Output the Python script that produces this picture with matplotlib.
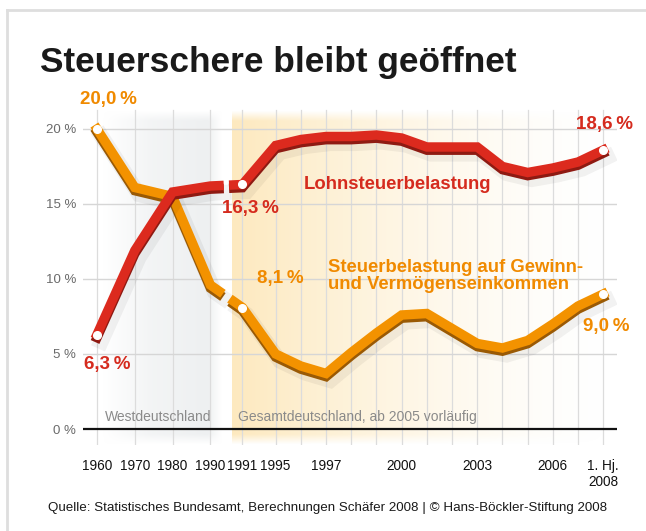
import numpy as np
import matplotlib
matplotlib.use("Agg")
import matplotlib.pyplot as plt
import matplotlib.patheffects as pe
from matplotlib.lines import Line2D

plt.rcParams['font.family'] = ['Liberation Sans', 'DejaVu Sans']

# --- data -------------------------------------------------------------
west_years = [1960, 1970, 1980, 1990]
east_years = [1991, 1995, 1996, 1997, 1998, 1999, 2000, 2001, 2002,
              2003, 2004, 2005, 2006, 2007, 2008]

lohn_west = [6.3, 11.9, 15.8, 16.2]
lohn_east = [16.3, 18.9, 19.3, 19.5, 19.5, 19.6, 19.4, 18.8, 18.8,
             18.8, 17.5, 17.1, 17.4, 17.8, 18.6]

gewinn_west = [20.0, 16.1, 15.5, 9.6]
gewinn_east = [8.1, 5.0, 4.2, 3.7, 5.1, 6.4, 7.6, 7.7, 6.7,
               5.7, 5.4, 5.9, 7.0, 8.2, 9.0]

tick_years = [1960, 1970, 1980, 1990, 1991, 1995, 1997, 2000, 2003, 2006, 2008]
tick_labels = ["1960", "1970", "1980", "1990", "1991", "1995", "1997",
               "2000", "2003", "2006", "1. Hj.\n2008"]
y_ticks = [0, 5, 10, 15, 20]
y_labels = ["0 %", "5 %", "10 %", "15 %", "20 %"]


# broken time axis: decades compressed in the west part
def xpos(year):
    if year <= 1990:
        return (year - 1960) / 10 * 1.5
    if year < 1995:
        return 4.5 + 1.27
    return 4.5 + 1.27 + 1.32 + (year - 1995)


RED = "#dc2a1e"
RED_DARK = "#8e1a12"
ORANGE = "#f39200"
ORANGE_DARK = "#9a5a05"
RED_TXT = "#d52b1e"
ORANGE_TXT = "#f08a00"
GRAY_TXT = "#8a8a8a"

W, H = 646, 531
fig = plt.figure(figsize=(W / 100, H / 100), dpi=100)
fig.patch.set_facecolor("white")

# axes placed in pixel terms
left, right, top, bottom = 83, 617, 108, 445
ax = fig.add_axes([left / W, 1 - bottom / H, (right - left) / W, (bottom - top) / H])
px_per_unit = 25.2
x0 = 97
ax.set_xlim((left - x0) / px_per_unit, (right - x0) / px_per_unit)
ax.set_ylim((429 - bottom) / 15, (429 - top) / 15)
for s in ax.spines.values():
    s.set_visible(False)

ymin, ymax = ax.get_ylim()
band_lo, band_hi = ymin, (429 - 110) / 15

# vertical soft edges of the background bands
nv = 200
vy = np.linspace(0, 1, nv)
v_alpha = np.clip(np.minimum(vy / 0.03, (1 - vy) / 0.03), 0, 1)

# gray band (Westdeutschland)
gx0, gx1 = (103 - x0) / px_per_unit, (222 - x0) / px_per_unit
nx = 300
gx = np.linspace(gx0, gx1, nx)
g_alpha = np.interp(gx, [gx0, (150 - x0) / px_per_unit, (208 - x0) / px_per_unit, gx1],
                    [0, 0.7, 1, 0])
img = np.zeros((nv, nx, 4))
img[..., :3] = np.array([0.937, 0.942, 0.948])
img[..., 3] = v_alpha[:, None] * g_alpha[None, :]
ax.imshow(img, extent=[gx0, gx1, band_lo, band_hi], origin="lower",
          aspect="auto", zorder=0, interpolation="bilinear")

# orange band (Gesamtdeutschland)
ox0, ox1 = (232 - x0) / px_per_unit, (612 - x0) / px_per_unit
ox = np.linspace(0, 1, nx)
o_alpha = np.clip(1 - ox, 0, 1) ** 1.5
img2 = np.zeros((nv, nx, 4))
img2[..., :3] = np.array([0.995, 0.915, 0.75])
img2[..., 3] = v_alpha[:, None] * o_alpha[None, :]
ax.imshow(img2, extent=[ox0, ox1, band_lo, band_hi], origin="lower",
          aspect="auto", zorder=0, interpolation="bilinear")

# grid
all_years = west_years + east_years
for yr in all_years:
    ax.plot([xpos(yr)] * 2, [band_lo, band_hi], color="#dcdcdc", lw=0.9, zorder=1)
for yv in y_ticks[1:]:
    ax.axhline(yv, color="#d6d6d6", lw=1.0, zorder=1)
ax.axhline(0, color="#111111", lw=1.6, zorder=2)

# period labels
ax.text((105 - x0) / px_per_unit, 0.35, "Westdeutschland", color=GRAY_TXT,
        fontsize=10, ha="left", va="bottom", zorder=3)
ax.text((238 - x0) / px_per_unit, 0.35, "Gesamtdeutschland, ab 2005 vorläufig",
        color=GRAY_TXT, fontsize=10, ha="left", va="bottom", zorder=3)


def draw_series(west, east, color, dark, z):
    wx = [xpos(y) for y in west_years]
    ex = [xpos(y) for y in east_years]
    # gap between the two periods
    t1, t2 = 0.27, 0.73
    gx_a = wx[-1] + t1 * (ex[0] - wx[-1])
    gy_a = west[-1] + t1 * (east[0] - west[-1])
    gx_b = wx[-1] + t2 * (ex[0] - wx[-1])
    gy_b = west[-1] + t2 * (east[0] - west[-1])
    effects = [
        pe.SimpleLineShadow(offset=(3, -5), shadow_color="black", alpha=0.05, linewidth=11),
        pe.Stroke(linewidth=6.8, foreground=dark, offset=(0, -2.3)),
        pe.Normal(),
    ]
    for xs, ys in [(wx + [gx_a], west + [gy_a]), ([gx_b] + ex, [gy_b] + east)]:
        ax.plot(xs, ys, color=color, lw=6.8, solid_capstyle="projecting",
                solid_joinstyle="miter", path_effects=effects, zorder=z)
    ax.plot([wx[0], ex[0], ex[-1]], [west[0], east[0], east[-1]], ls="none",
            marker="o", ms=5.5, mfc="white", mec="white", zorder=z + 0.5)


draw_series(gewinn_west, gewinn_east, ORANGE, ORANGE_DARK, 4)
draw_series(lohn_west, lohn_east, RED, RED_DARK, 6)

# value labels
lab = dict(fontsize=13.5, fontweight="bold", ha="center", va="center", zorder=8)
ax.text((108 - x0) / px_per_unit, (429 - 100) / 15, "20,0\u2009%", color=ORANGE_TXT, **lab)
ax.text((107 - x0) / px_per_unit, (429 - 364) / 15, "6,3\u2009%", color=RED_TXT, **lab)
ax.text((250 - x0) / px_per_unit, (429 - 208) / 15, "16,3\u2009%", color=RED_TXT, **lab)
ax.text((280 - x0) / px_per_unit, (429 - 279) / 15, "8,1\u2009%", color=ORANGE_TXT, **lab)
ax.text((605 - x0) / px_per_unit, (429 - 125) / 15, "18,6\u2009%", color=RED_TXT, **lab)
ax.text((606 - x0) / px_per_unit, (429 - 327) / 15, "9,0\u2009%", color=ORANGE_TXT, **lab)

ax.text((304 - x0) / px_per_unit, (429 - 185) / 15, "Lohnsteuerbelastung",
        color=RED_TXT, fontsize=13.3, fontweight="bold", ha="left", va="center", zorder=8)
ax.text((328 - x0) / px_per_unit, (429 - 276) / 15,
        "Steuerbelastung auf Gewinn-\nund Vermögenseinkommen",
        color=ORANGE_TXT, fontsize=13.3, fontweight="bold", ha="left", va="center",
        linespacing=1.05, zorder=8)

# ticks
ax.set_yticks(y_ticks)
ax.set_yticklabels(y_labels, color="#6a6a6a", fontsize=9.5)
ax.set_xticks([xpos(y) for y in tick_years])
ax.set_xticklabels(tick_labels, fontsize=9.8, color="#111111", va="top")
ax.tick_params(axis="both", length=0)
ax.tick_params(axis="y", pad=5)
ax.tick_params(axis="x", pad=10)

# title and source
fig.text(40 / W, 1 - 72 / H, "Steuerschere bleibt geöffnet", fontsize=25.4,
         fontweight="bold", color="#1a1a1a", ha="left", va="baseline")
fig.text(48 / W, 1 - 508 / H,
         "Quelle: Statistisches Bundesamt, Berechnungen Schäfer 2008 | © Hans-Böckler-Stiftung 2008",
         fontsize=9.6, color="#1a1a1a", ha="left", va="center")

# light frame
fig.add_artist(Line2D([7 / W, 7 / W], [0, 1 - 10 / H], color="#dedede", lw=2,
                      transform=fig.transFigure))
fig.add_artist(Line2D([7 / W, 1], [1 - 10 / H, 1 - 10 / H], color="#dedede", lw=2,
                      transform=fig.transFigure))

fig.savefig("out.png", dpi=100)
